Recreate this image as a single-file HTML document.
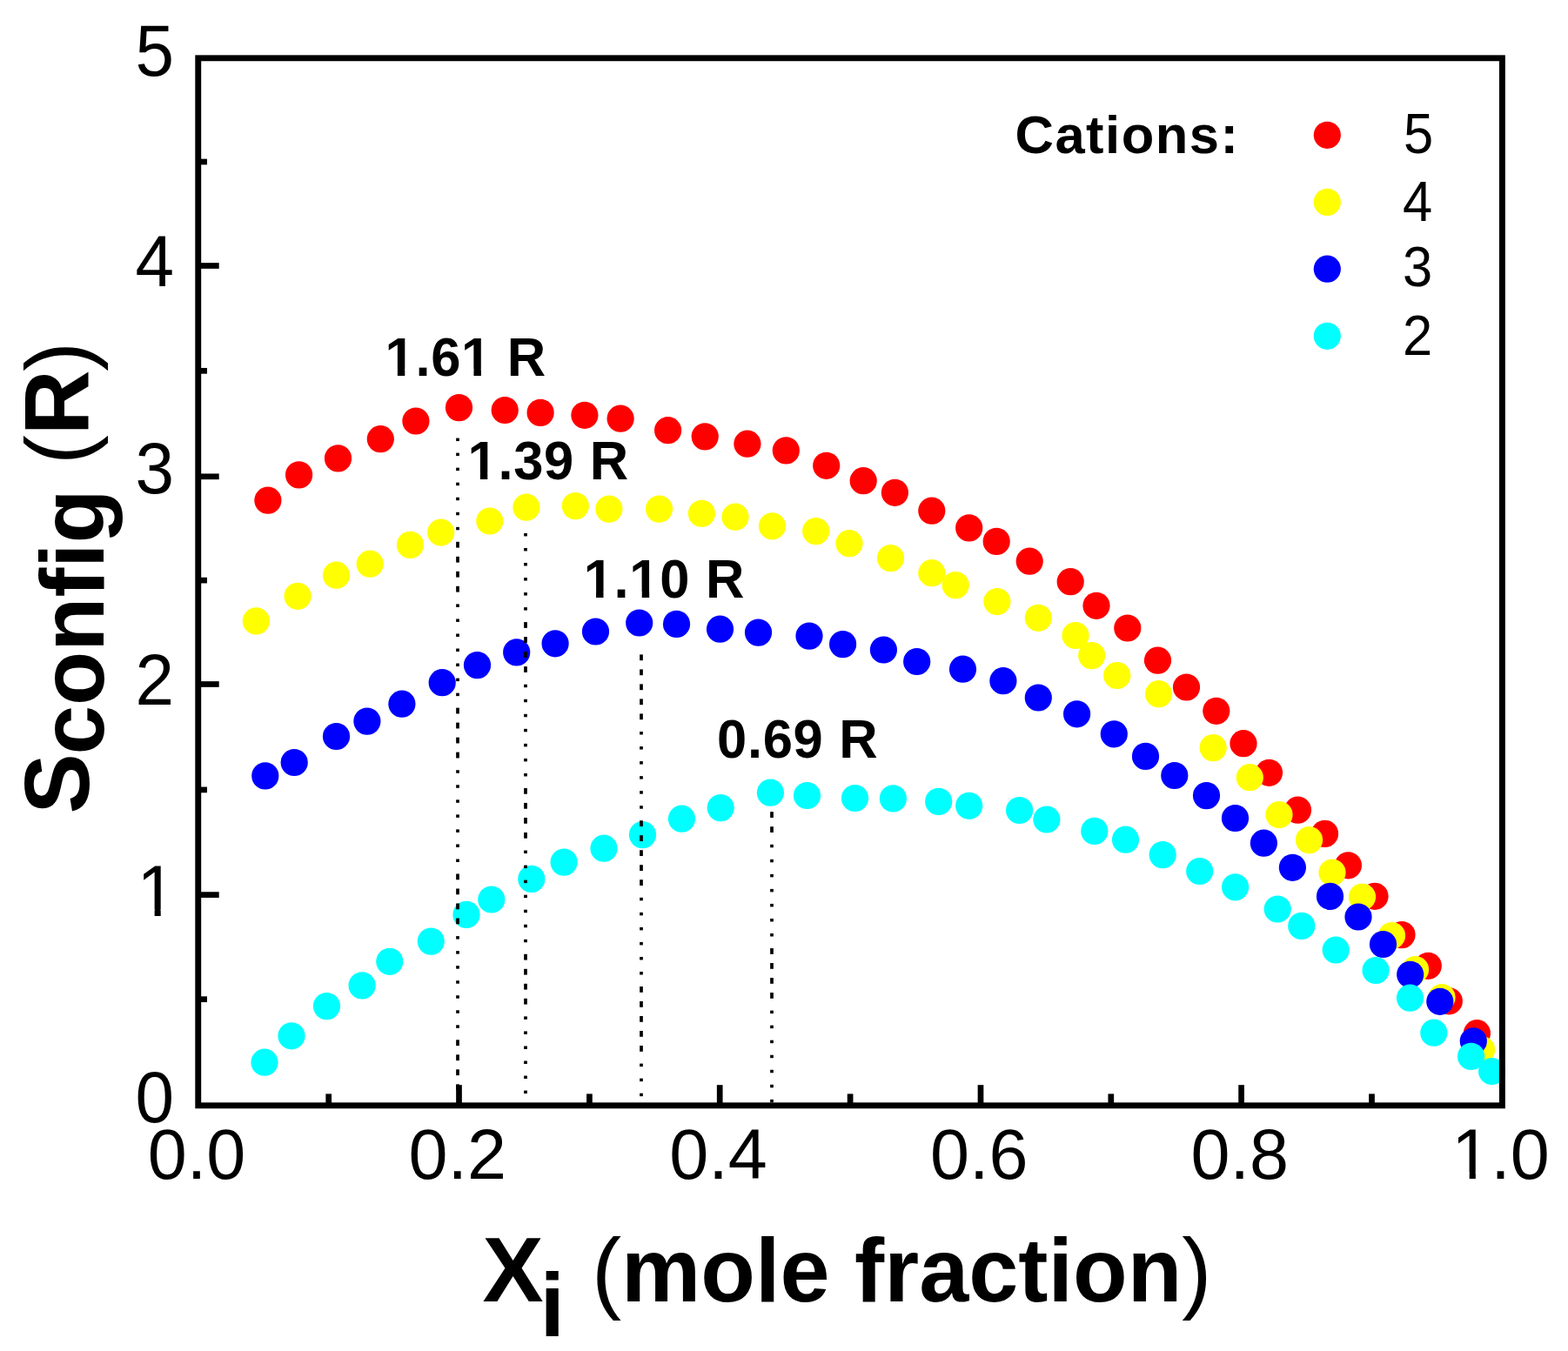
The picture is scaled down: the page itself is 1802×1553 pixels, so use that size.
<!DOCTYPE html>
<html><head><meta charset="utf-8"><title>Sconfig vs mole fraction</title>
<style>
html,body{margin:0;padding:0;background:#fff;}
body{width:1802px;height:1553px;overflow:hidden;}
svg{display:block;}
text{font-family:"Liberation Sans",Arial,sans-serif;}
</style></head>
<body>
<svg width="1802" height="1553" viewBox="0 0 1802 1553">
<defs>
<clipPath id="c1y" clipPathUnits="userSpaceOnUse"><path clip-rule="evenodd" d="M-3000,-3000H3000V3000H-3000ZM-39.40,-6.98H-24.38V2.00H-39.40ZM-17.30,-6.98H-2.91V2.00H-17.30Z"/></clipPath>
<clipPath id="c1x" clipPathUnits="userSpaceOnUse"><path clip-rule="evenodd" d="M-3000,-3000H3000V3000H-3000ZM-50.51,-6.98H-35.49V2.00H-50.51ZM-28.42,-6.98H-14.02V2.00H-28.42Z"/></clipPath>
<clipPath id="c161" clipPathUnits="userSpaceOnUse"><path clip-rule="evenodd" d="M-3000,-3000H3000V3000H-3000ZM2.87,-7.28H14.35V2.00H2.87ZM22.79,-7.28H33.49V2.00H22.79ZM90.47,-7.28H101.95V2.00H90.47ZM110.39,-7.28H121.09V2.00H110.39Z"/></clipPath>
<clipPath id="c139" clipPathUnits="userSpaceOnUse"><path clip-rule="evenodd" d="M-3000,-3000H3000V3000H-3000ZM2.87,-7.28H14.35V2.00H2.87ZM22.79,-7.28H33.49V2.00H22.79Z"/></clipPath>
<clipPath id="c110" clipPathUnits="userSpaceOnUse"><path clip-rule="evenodd" d="M-3000,-3000H3000V3000H-3000ZM2.87,-7.28H14.35V2.00H2.87ZM22.79,-7.28H33.49V2.00H22.79ZM55.56,-7.28H67.04V2.00H55.56ZM75.48,-7.28H86.18V2.00H75.48Z"/></clipPath>
</defs>
<rect x="0" y="0" width="1802" height="1553" fill="#fff"/>
<g fill="#ff0000">
<circle cx="307.9" cy="575.2" r="15.6"/>
<circle cx="343.6" cy="545.9" r="15.6"/>
<circle cx="388.5" cy="526.9" r="15.6"/>
<circle cx="437.3" cy="504.7" r="15.6"/>
<circle cx="477.9" cy="484.0" r="15.6"/>
<circle cx="527.5" cy="468.6" r="15.6"/>
<circle cx="580.2" cy="471.5" r="15.6"/>
<circle cx="621.1" cy="474.4" r="15.6"/>
<circle cx="671.9" cy="477.3" r="15.6"/>
<circle cx="713.1" cy="481.2" r="15.6"/>
<circle cx="767.6" cy="494.7" r="15.6"/>
<circle cx="810.2" cy="501.9" r="15.6"/>
<circle cx="858.9" cy="510.2" r="15.6"/>
<circle cx="903.3" cy="517.9" r="15.6"/>
<circle cx="949.7" cy="535.3" r="15.6"/>
<circle cx="992.2" cy="552.7" r="15.6"/>
<circle cx="1028.4" cy="566.3" r="15.6"/>
<circle cx="1070.8" cy="587.2" r="15.6"/>
<circle cx="1113.7" cy="606.9" r="15.6"/>
<circle cx="1145.2" cy="622.4" r="15.6"/>
<circle cx="1183.2" cy="645.2" r="15.6"/>
<circle cx="1230.2" cy="668.7" r="15.6"/>
<circle cx="1260.0" cy="696.3" r="15.6"/>
<circle cx="1295.8" cy="722.0" r="15.6"/>
<circle cx="1330.5" cy="759.2" r="15.6"/>
<circle cx="1363.5" cy="790.0" r="15.6"/>
<circle cx="1397.8" cy="817.3" r="15.6"/>
<circle cx="1429.0" cy="854.7" r="15.6"/>
<circle cx="1458.5" cy="888.3" r="15.6"/>
<circle cx="1491.5" cy="931.2" r="15.6"/>
<circle cx="1522.5" cy="958.4" r="15.6"/>
<circle cx="1549.4" cy="994.8" r="15.6"/>
<circle cx="1580.0" cy="1030.3" r="15.6"/>
<circle cx="1611.0" cy="1074.6" r="15.6"/>
<circle cx="1641.3" cy="1110.3" r="15.6"/>
<circle cx="1665.3" cy="1150.8" r="15.6"/>
<circle cx="1697.4" cy="1187.7" r="15.6"/>
</g>
<g fill="#ffff00">
<circle cx="294.4" cy="713.9" r="15.6"/>
<circle cx="342.1" cy="685.3" r="15.6"/>
<circle cx="386.5" cy="661.2" r="15.6"/>
<circle cx="425.2" cy="648.2" r="15.6"/>
<circle cx="471.5" cy="626.4" r="15.6"/>
<circle cx="506.7" cy="612.0" r="15.6"/>
<circle cx="562.8" cy="599.0" r="15.6"/>
<circle cx="604.9" cy="583.2" r="15.6"/>
<circle cx="661.3" cy="581.6" r="15.6"/>
<circle cx="699.9" cy="585.1" r="15.6"/>
<circle cx="757.5" cy="585.1" r="15.6"/>
<circle cx="806.4" cy="590.3" r="15.6"/>
<circle cx="845.0" cy="594.2" r="15.6"/>
<circle cx="887.5" cy="604.8" r="15.6"/>
<circle cx="937.7" cy="610.6" r="15.6"/>
<circle cx="976.0" cy="624.7" r="15.6"/>
<circle cx="1023.5" cy="641.6" r="15.6"/>
<circle cx="1070.8" cy="658.7" r="15.6"/>
<circle cx="1098.2" cy="672.6" r="15.6"/>
<circle cx="1145.9" cy="691.5" r="15.6"/>
<circle cx="1193.3" cy="710.3" r="15.6"/>
<circle cx="1236.0" cy="730.5" r="15.6"/>
<circle cx="1254.7" cy="753.6" r="15.6"/>
<circle cx="1283.8" cy="776.5" r="15.6"/>
<circle cx="1331.6" cy="797.7" r="15.6"/>
<circle cx="1394.2" cy="859.6" r="15.6"/>
<circle cx="1436.3" cy="893.7" r="15.6"/>
<circle cx="1470.0" cy="936.5" r="15.6"/>
<circle cx="1504.5" cy="965.6" r="15.6"/>
<circle cx="1531.0" cy="1003.0" r="15.6"/>
<circle cx="1565.5" cy="1031.0" r="15.6"/>
<circle cx="1599.5" cy="1075.5" r="15.6"/>
<circle cx="1626.5" cy="1114.6" r="15.6"/>
<circle cx="1657.0" cy="1146.5" r="15.6"/>
<circle cx="1702.6" cy="1206.6" r="15.6"/>
</g>
<g fill="#0000ff">
<circle cx="304.8" cy="891.9" r="15.6"/>
<circle cx="338.2" cy="876.5" r="15.6"/>
<circle cx="386.5" cy="846.5" r="15.6"/>
<circle cx="421.9" cy="829.1" r="15.6"/>
<circle cx="461.9" cy="809.2" r="15.6"/>
<circle cx="508.2" cy="784.7" r="15.6"/>
<circle cx="548.5" cy="764.6" r="15.6"/>
<circle cx="593.7" cy="749.9" r="15.6"/>
<circle cx="638.1" cy="739.8" r="15.6"/>
<circle cx="684.5" cy="726.0" r="15.6"/>
<circle cx="734.7" cy="716.0" r="15.6"/>
<circle cx="777.5" cy="717.4" r="15.6"/>
<circle cx="827.5" cy="723.2" r="15.6"/>
<circle cx="871.5" cy="727.1" r="15.6"/>
<circle cx="930.0" cy="731.1" r="15.6"/>
<circle cx="968.6" cy="740.6" r="15.6"/>
<circle cx="1015.4" cy="747.0" r="15.6"/>
<circle cx="1053.7" cy="760.5" r="15.6"/>
<circle cx="1106.5" cy="769.2" r="15.6"/>
<circle cx="1152.9" cy="782.7" r="15.6"/>
<circle cx="1193.3" cy="802.0" r="15.6"/>
<circle cx="1237.6" cy="820.8" r="15.6"/>
<circle cx="1280.3" cy="843.8" r="15.6"/>
<circle cx="1316.5" cy="869.4" r="15.6"/>
<circle cx="1349.8" cy="891.5" r="15.6"/>
<circle cx="1386.5" cy="914.6" r="15.6"/>
<circle cx="1419.5" cy="940.5" r="15.6"/>
<circle cx="1452.4" cy="969.2" r="15.6"/>
<circle cx="1485.4" cy="997.3" r="15.6"/>
<circle cx="1528.5" cy="1030.4" r="15.6"/>
<circle cx="1561.0" cy="1054.0" r="15.6"/>
<circle cx="1589.5" cy="1085.5" r="15.6"/>
<circle cx="1620.7" cy="1120.3" r="15.6"/>
<circle cx="1654.8" cy="1151.3" r="15.6"/>
<circle cx="1693.3" cy="1196.8" r="15.6"/>
</g>
<g fill="#00ffff">
<circle cx="304.0" cy="1221.2" r="15.6"/>
<circle cx="335.0" cy="1190.8" r="15.6"/>
<circle cx="375.5" cy="1156.6" r="15.6"/>
<circle cx="416.1" cy="1132.9" r="15.6"/>
<circle cx="447.8" cy="1105.3" r="15.6"/>
<circle cx="495.3" cy="1082.1" r="15.6"/>
<circle cx="536.0" cy="1051.4" r="15.6"/>
<circle cx="564.8" cy="1034.0" r="15.6"/>
<circle cx="610.8" cy="1010.4" r="15.6"/>
<circle cx="648.1" cy="991.1" r="15.6"/>
<circle cx="694.0" cy="975.2" r="15.6"/>
<circle cx="738.5" cy="959.6" r="15.6"/>
<circle cx="783.5" cy="941.2" r="15.6"/>
<circle cx="828.2" cy="928.6" r="15.6"/>
<circle cx="885.4" cy="911.2" r="15.6"/>
<circle cx="927.5" cy="914.5" r="15.6"/>
<circle cx="982.5" cy="917.5" r="15.6"/>
<circle cx="1026.4" cy="917.9" r="15.6"/>
<circle cx="1078.7" cy="921.4" r="15.6"/>
<circle cx="1113.7" cy="926.3" r="15.6"/>
<circle cx="1171.6" cy="931.5" r="15.6"/>
<circle cx="1202.9" cy="942.0" r="15.6"/>
<circle cx="1257.8" cy="955.4" r="15.6"/>
<circle cx="1293.5" cy="965.2" r="15.6"/>
<circle cx="1336.2" cy="982.6" r="15.6"/>
<circle cx="1378.7" cy="1001.5" r="15.6"/>
<circle cx="1419.6" cy="1019.8" r="15.6"/>
<circle cx="1468.2" cy="1045.0" r="15.6"/>
<circle cx="1495.8" cy="1064.4" r="15.6"/>
<circle cx="1535.2" cy="1092.0" r="15.6"/>
<circle cx="1581.1" cy="1115.5" r="15.6"/>
<circle cx="1620.5" cy="1147.2" r="15.6"/>
<circle cx="1647.8" cy="1187.2" r="15.6"/>
<circle cx="1690.6" cy="1214.4" r="15.6"/>
<circle cx="1714.6" cy="1231.5" r="15.6"/>
</g>
<g fill="#000">
<rect x="524.15" y="503.56" width="3.7" height="3.50"/>
<rect x="524.15" y="520.60" width="3.7" height="3.50"/>
<rect x="524.15" y="537.64" width="3.7" height="3.50"/>
<rect x="524.15" y="554.68" width="3.7" height="3.50"/>
<rect x="524.15" y="571.72" width="3.7" height="3.50"/>
<rect x="524.15" y="588.76" width="3.7" height="3.50"/>
<rect x="524.15" y="605.80" width="3.7" height="3.50"/>
<rect x="524.15" y="622.80" width="3.7" height="6.80"/>
<rect x="524.15" y="639.80" width="3.7" height="6.80"/>
<rect x="524.15" y="656.80" width="3.7" height="6.80"/>
<rect x="524.15" y="673.80" width="3.7" height="6.80"/>
<rect x="524.15" y="694.40" width="3.7" height="3.50"/>
<rect x="524.15" y="711.44" width="3.7" height="3.50"/>
<rect x="524.15" y="728.48" width="3.7" height="3.50"/>
<rect x="524.15" y="745.52" width="3.7" height="3.50"/>
<rect x="524.15" y="762.56" width="3.7" height="3.50"/>
<rect x="524.15" y="779.60" width="3.7" height="3.50"/>
<rect x="524.15" y="796.64" width="3.7" height="3.50"/>
<rect x="524.15" y="813.64" width="3.7" height="6.80"/>
<rect x="524.15" y="830.64" width="3.7" height="6.80"/>
<rect x="524.15" y="847.64" width="3.7" height="6.80"/>
<rect x="524.15" y="864.64" width="3.7" height="6.80"/>
<rect x="524.15" y="885.24" width="3.7" height="3.50"/>
<rect x="524.15" y="902.28" width="3.7" height="3.50"/>
<rect x="524.15" y="919.32" width="3.7" height="3.50"/>
<rect x="524.15" y="936.36" width="3.7" height="3.50"/>
<rect x="524.15" y="953.40" width="3.7" height="3.50"/>
<rect x="524.15" y="970.44" width="3.7" height="3.50"/>
<rect x="524.15" y="987.48" width="3.7" height="3.50"/>
<rect x="524.15" y="1004.48" width="3.7" height="6.80"/>
<rect x="524.15" y="1021.48" width="3.7" height="6.80"/>
<rect x="524.15" y="1038.48" width="3.7" height="6.80"/>
<rect x="524.15" y="1055.48" width="3.7" height="6.80"/>
<rect x="524.15" y="1076.08" width="3.7" height="3.50"/>
<rect x="524.15" y="1093.12" width="3.7" height="3.50"/>
<rect x="524.15" y="1110.16" width="3.7" height="3.50"/>
<rect x="524.15" y="1127.20" width="3.7" height="3.50"/>
<rect x="524.15" y="1144.24" width="3.7" height="3.50"/>
<rect x="524.15" y="1161.28" width="3.7" height="3.50"/>
<rect x="524.15" y="1178.32" width="3.7" height="3.50"/>
<rect x="524.15" y="1195.32" width="3.7" height="6.80"/>
<rect x="524.15" y="1212.32" width="3.7" height="6.80"/>
<rect x="524.15" y="1229.32" width="3.7" height="6.80"/>
<rect x="524.15" y="1246.32" width="3.7" height="6.80"/>
<rect x="524.15" y="1266.92" width="3.7" height="0.58"/>
<rect x="602.15" y="612.90" width="3.7" height="3.50"/>
<rect x="602.15" y="629.94" width="3.7" height="3.50"/>
<rect x="602.15" y="646.98" width="3.7" height="3.50"/>
<rect x="602.15" y="664.02" width="3.7" height="3.50"/>
<rect x="602.15" y="681.06" width="3.7" height="3.50"/>
<rect x="602.15" y="698.10" width="3.7" height="3.50"/>
<rect x="602.15" y="715.10" width="3.7" height="6.80"/>
<rect x="602.15" y="732.10" width="3.7" height="6.80"/>
<rect x="602.15" y="749.10" width="3.7" height="6.80"/>
<rect x="602.15" y="766.10" width="3.7" height="6.80"/>
<rect x="602.15" y="786.70" width="3.7" height="3.50"/>
<rect x="602.15" y="803.74" width="3.7" height="3.50"/>
<rect x="602.15" y="820.78" width="3.7" height="3.50"/>
<rect x="602.15" y="837.82" width="3.7" height="3.50"/>
<rect x="602.15" y="854.86" width="3.7" height="3.50"/>
<rect x="602.15" y="871.90" width="3.7" height="3.50"/>
<rect x="602.15" y="888.94" width="3.7" height="3.50"/>
<rect x="602.15" y="905.94" width="3.7" height="6.80"/>
<rect x="602.15" y="922.94" width="3.7" height="6.80"/>
<rect x="602.15" y="939.94" width="3.7" height="6.80"/>
<rect x="602.15" y="956.94" width="3.7" height="6.80"/>
<rect x="602.15" y="977.54" width="3.7" height="3.50"/>
<rect x="602.15" y="994.58" width="3.7" height="3.50"/>
<rect x="602.15" y="1011.62" width="3.7" height="3.50"/>
<rect x="602.15" y="1028.66" width="3.7" height="3.50"/>
<rect x="602.15" y="1045.70" width="3.7" height="3.50"/>
<rect x="602.15" y="1062.74" width="3.7" height="3.50"/>
<rect x="602.15" y="1079.78" width="3.7" height="3.50"/>
<rect x="602.15" y="1096.78" width="3.7" height="6.80"/>
<rect x="602.15" y="1113.78" width="3.7" height="6.80"/>
<rect x="602.15" y="1130.78" width="3.7" height="6.80"/>
<rect x="602.15" y="1147.78" width="3.7" height="6.80"/>
<rect x="602.15" y="1168.38" width="3.7" height="3.50"/>
<rect x="602.15" y="1185.42" width="3.7" height="3.50"/>
<rect x="602.15" y="1202.46" width="3.7" height="3.50"/>
<rect x="602.15" y="1219.50" width="3.7" height="3.50"/>
<rect x="602.15" y="1236.54" width="3.7" height="3.50"/>
<rect x="602.15" y="1253.58" width="3.7" height="3.50"/>
<rect x="735.15" y="752.40" width="3.7" height="6.80"/>
<rect x="735.15" y="769.40" width="3.7" height="6.80"/>
<rect x="735.15" y="786.40" width="3.7" height="6.80"/>
<rect x="735.15" y="803.40" width="3.7" height="6.80"/>
<rect x="735.15" y="820.40" width="3.7" height="6.80"/>
<rect x="735.15" y="841.00" width="3.7" height="3.50"/>
<rect x="735.15" y="858.04" width="3.7" height="3.50"/>
<rect x="735.15" y="875.08" width="3.7" height="3.50"/>
<rect x="735.15" y="892.12" width="3.7" height="3.50"/>
<rect x="735.15" y="909.16" width="3.7" height="3.50"/>
<rect x="735.15" y="926.20" width="3.7" height="3.50"/>
<rect x="735.15" y="943.20" width="3.7" height="6.80"/>
<rect x="735.15" y="960.20" width="3.7" height="6.80"/>
<rect x="735.15" y="977.20" width="3.7" height="6.80"/>
<rect x="735.15" y="994.20" width="3.7" height="6.80"/>
<rect x="735.15" y="1011.20" width="3.7" height="6.80"/>
<rect x="735.15" y="1031.80" width="3.7" height="3.50"/>
<rect x="735.15" y="1048.84" width="3.7" height="3.50"/>
<rect x="735.15" y="1065.88" width="3.7" height="3.50"/>
<rect x="735.15" y="1082.92" width="3.7" height="3.50"/>
<rect x="735.15" y="1099.96" width="3.7" height="3.50"/>
<rect x="735.15" y="1117.00" width="3.7" height="3.50"/>
<rect x="735.15" y="1134.00" width="3.7" height="6.80"/>
<rect x="735.15" y="1151.00" width="3.7" height="6.80"/>
<rect x="735.15" y="1168.00" width="3.7" height="6.80"/>
<rect x="735.15" y="1185.00" width="3.7" height="6.80"/>
<rect x="735.15" y="1202.00" width="3.7" height="6.80"/>
<rect x="735.15" y="1222.60" width="3.7" height="3.50"/>
<rect x="735.15" y="1239.64" width="3.7" height="3.50"/>
<rect x="735.15" y="1256.68" width="3.7" height="3.50"/>
<rect x="885.15" y="933.16" width="3.7" height="6.80"/>
<rect x="885.15" y="950.16" width="3.7" height="6.80"/>
<rect x="885.15" y="970.76" width="3.7" height="3.50"/>
<rect x="885.15" y="987.80" width="3.7" height="3.50"/>
<rect x="885.15" y="1004.84" width="3.7" height="3.50"/>
<rect x="885.15" y="1021.88" width="3.7" height="3.50"/>
<rect x="885.15" y="1038.92" width="3.7" height="3.50"/>
<rect x="885.15" y="1055.96" width="3.7" height="3.50"/>
<rect x="885.15" y="1073.00" width="3.7" height="3.50"/>
<rect x="885.15" y="1090.00" width="3.7" height="6.80"/>
<rect x="885.15" y="1107.00" width="3.7" height="6.80"/>
<rect x="885.15" y="1124.00" width="3.7" height="6.80"/>
<rect x="885.15" y="1141.00" width="3.7" height="6.80"/>
<rect x="885.15" y="1161.60" width="3.7" height="3.50"/>
<rect x="885.15" y="1178.64" width="3.7" height="3.50"/>
<rect x="885.15" y="1195.68" width="3.7" height="3.50"/>
<rect x="885.15" y="1212.72" width="3.7" height="3.50"/>
<rect x="885.15" y="1229.76" width="3.7" height="3.50"/>
<rect x="885.15" y="1246.80" width="3.7" height="3.50"/>
<rect x="885.15" y="1263.84" width="3.7" height="3.50"/>
</g>
<rect x="227.75" y="66.8" width="1498.65" height="1204" fill="none" stroke="#000" stroke-width="6.9"/>
<g fill="#000">
<rect x="230" y="302.15" width="21.7" height="6.7"/>
<rect x="230" y="544.45" width="21.7" height="6.7"/>
<rect x="230" y="783.15" width="21.7" height="6.7"/>
<rect x="230" y="1025.25" width="21.7" height="6.7"/>
<rect x="230" y="1145.35" width="8" height="6.7"/>
<rect x="230" y="904.55" width="8" height="6.7"/>
<rect x="230" y="663.75" width="8" height="6.7"/>
<rect x="230" y="422.95" width="8" height="6.7"/>
<rect x="230" y="182.65" width="8" height="6.7"/>
<rect x="524.15" y="1247.2" width="6.7" height="21"/>
<rect x="823.85" y="1247.2" width="6.7" height="21"/>
<rect x="1123.65" y="1247.2" width="6.7" height="21"/>
<rect x="1423.25" y="1247.2" width="6.7" height="21"/>
<rect x="374.35" y="1257.4" width="6.7" height="11"/>
<rect x="674.05" y="1257.4" width="6.7" height="11"/>
<rect x="973.75" y="1257.4" width="6.7" height="11"/>
<rect x="1273.45" y="1257.4" width="6.7" height="11"/>
<rect x="1573.15" y="1257.4" width="6.7" height="11"/>
</g>
<g font-size="80" text-anchor="end" fill="#000">
<text transform="translate(200,86.6) scale(1,1.04)">5</text>
<text transform="translate(200,329.2) scale(1,1.04)">4</text>
<text transform="translate(200,566.9) scale(1,1.04)">3</text>
<text transform="translate(200,810.2) scale(1,1.04)">2</text>
<text transform="translate(202,1052.6) scale(1,1.04)" clip-path="url(#c1y)">1</text>
<text transform="translate(200,1290.4) scale(1,1.04)">0</text>
</g>
<g font-size="80" text-anchor="middle" fill="#000">
<text transform="translate(226.0,1354.8) scale(1.012,1.025)">0.0</text>
<text transform="translate(525.7,1354.8) scale(1.012,1.025)">0.2</text>
<text transform="translate(825.4,1354.8) scale(1.012,1.025)">0.4</text>
<text transform="translate(1125.2,1354.8) scale(1.012,1.025)">0.6</text>
<text transform="translate(1424.8,1354.8) scale(1.012,1.025)">0.8</text>
<text transform="translate(1724.6,1354.8) scale(1.012,1.025)" clip-path="url(#c1x)">1.0</text>
</g>
<g font-size="61.5" font-weight="bold" fill="#000" letter-spacing="0.7">
<text transform="translate(442.5,431.7) scale(1,1.03)" clip-path="url(#c161)">1.61 R</text>
<text transform="translate(537.5,551.3) scale(1,1.03)" clip-path="url(#c139)">1.39 R</text>
<text transform="translate(670.7,687.3) scale(1,1.03)" clip-path="url(#c110)">1.10 R</text>
<text transform="translate(824,871.3) scale(1,1.03)">0.69 R</text>
</g>
<text transform="translate(1166.5,176) scale(1,1.0)" font-size="61.5" font-weight="bold" letter-spacing="1.5" fill="#000">Cations:</text>
<g font-size="61.5" fill="#000">
<text transform="translate(1613,176) scale(1,1.04)">5</text>
<text transform="translate(1612,254.3) scale(1,1.04)">4</text>
<text transform="translate(1612,329.2) scale(1,1.04)">3</text>
<text transform="translate(1612,407.9) scale(1,1.04)">2</text>
</g>
<circle cx="1525.3" cy="155.3" r="15.6" fill="#ff0000"/>
<circle cx="1525.3" cy="232.4" r="15.6" fill="#ffff00"/>
<circle cx="1525.3" cy="309.2" r="15.6" fill="#0000ff"/>
<circle cx="1525.3" cy="386.3" r="15.6" fill="#00ffff"/>
<text transform="translate(101.8,935.4) rotate(-90) scale(0.9786,1)" font-size="104" font-weight="bold" fill="#000"><tspan font-size="106">S</tspan><tspan dx="-1.33" dy="17.2">config</tspan><tspan dy="-17.2" font-weight="normal"> (</tspan><tspan font-size="106">R</tspan><tspan dx="-1.44" font-weight="normal">)</tspan></text>
<text transform="translate(554.5,1495.7) scale(0.9867,1)" font-size="104" font-weight="bold" fill="#000"><tspan font-size="106.5">X</tspan><tspan dx="-4.17" dy="40">i</tspan><tspan dx="2.5" dy="-40" font-weight="normal"> (</tspan>mole fraction<tspan font-weight="normal">)</tspan></text>
</svg>
</body></html>
